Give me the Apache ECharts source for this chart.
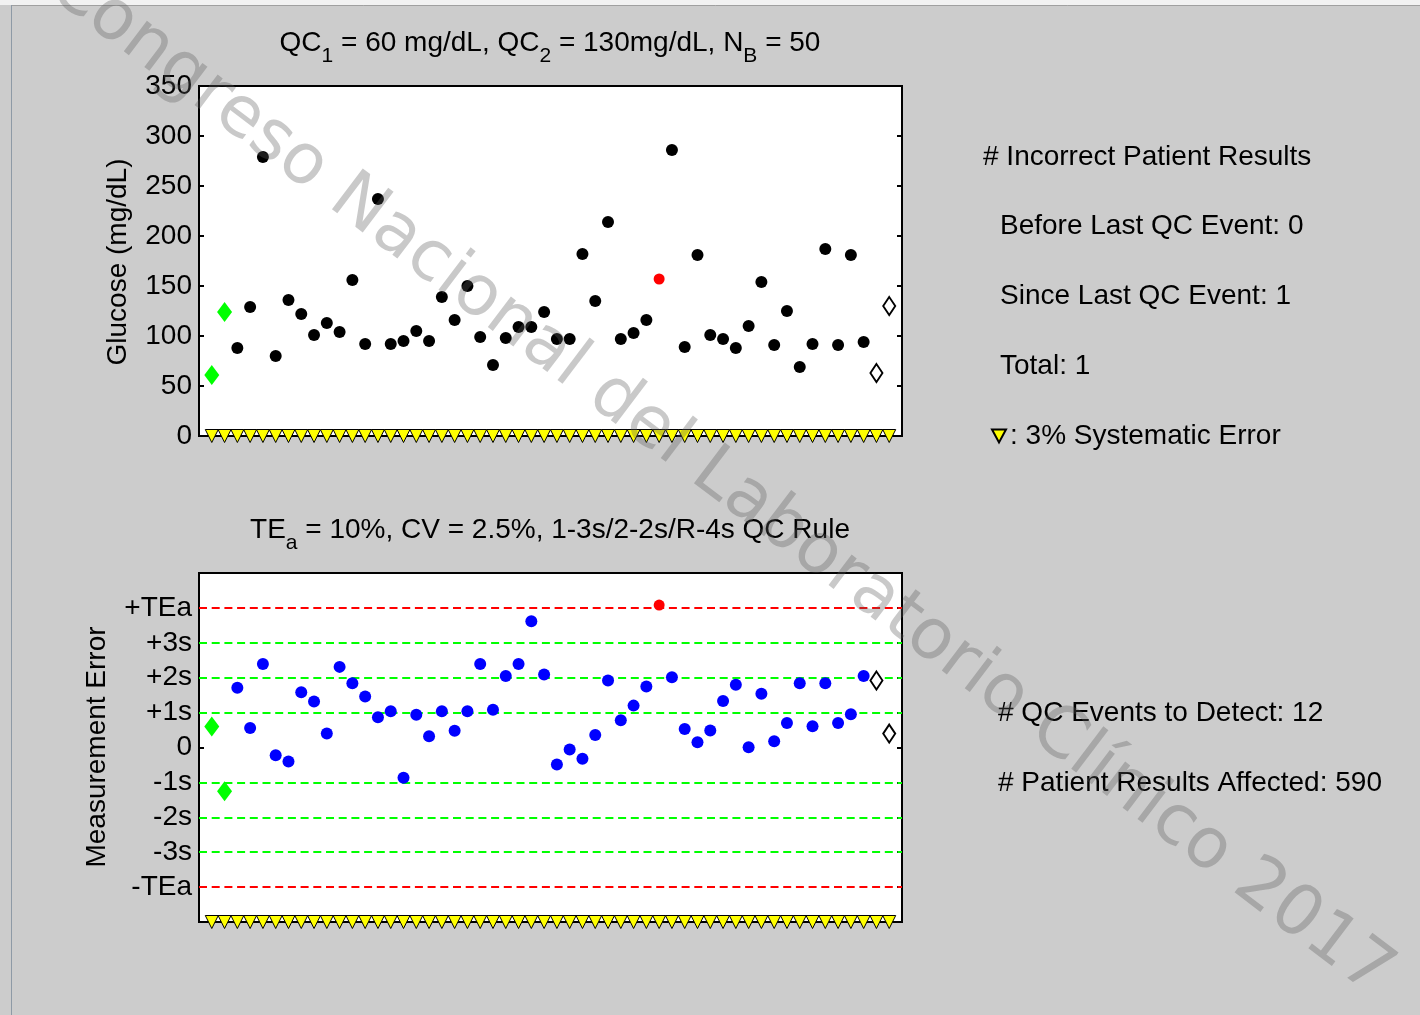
<!DOCTYPE html>
<html><head><meta charset="utf-8">
<script src="https://cdn.jsdelivr.net/npm/echarts@6/dist/echarts.min.js"></script>
<style>html,body{margin:0;padding:0;background:#cccccc}#c{width:1420px;height:1015px}</style>
</head><body><div id="c"></div>
<script>
// ---------------- data ----------------
const qcStartGlucose = [61, 124];          // QC1, QC2 before patient run
const qcEndGlucose = [63, 130];            // QC1, QC2 after patient run (open diamonds)
const patientGlucose = [88,129,279,80,136,122,101,113,104,156,
                        92,237,92,95,105,95,139,116,150,99,
                        71,98,109,109,124,97,97,182,135,214,
                        97,103,116,157,286,89,181,101,97,88,
                        110,154,91,125,69,92,187,91,181,94];
const qcStartError = [0.60, -1.25];        // in SD units
const qcEndError = [1.92, 0.40];
const patientError = [1.71,0.56,2.39,-0.22,-0.40,1.58,1.32,0.40,2.31,1.84,
                      1.46,0.87,1.04,-0.87,0.94,0.32,1.04,0.48,1.04,2.39,
                      1.08,2.05,2.39,3.62,2.09,-0.49,-0.06,-0.32,0.36,1.92,
                      0.78,1.20,1.75,4.08,2.01,0.53,0.15,0.49,1.33,1.80,
                      0.01,1.54,0.18,0.70,1.84,0.61,1.84,0.70,0.95,2.05];
const flaggedPatients = [33];              // incorrect patient result (red)
const errorTickValues = [-4,-3,-2,-1,0,1,2,3,4];
const errorTickLabels = ['-TEa','-3s','-2s','-1s','0','+1s','+2s','+3s','+TEa'];
const teaLimits = [4, -4];
const sdLimits = [3, 2, 1, -1, -2, -3];
const glucoseRange = [0, 350, 50];
const errorRange = [-5, 5, 1];
const topTitle = '{n|QC}{s|1}{n| = 60 mg/dL, QC}{s|2}{n| = 130mg/dL, N}{s|B}{n| = 50}';
const bottomTitle = '{n|TE}{s|a}{n| = 10%, CV = 2.5%, 1-3s/2-2s/R-4s QC Rule}';
const infoTop = ['Before Last QC Event: 0', 'Since Last QC Event: 1', 'Total: 1'];
const infoBottom = ['# QC Events to Detect: 12', '# Patient Results Affected: 590'];
const legendName = ': 3% Systematic Error';
const watermark = 'Congreso Nacional del Laboratorio Clínico 2017';

// ---------------- build ----------------
const FONT = "'Liberation Sans', Arial, sans-serif";
const nQC = qcStartGlucose.length;
const nP = patientGlucose.length;
const nAll = nQC + nP + qcEndGlucose.length;
const runPositions = Array.from({length: nAll}, (_, i) => i);

const topQCStart = qcStartGlucose.map((v, i) => [i, v]);
const topQCEnd = qcEndGlucose.map((v, i) => [nQC + nP + i, v]);
const topPatients = patientGlucose.map((v, i) => [nQC + i, v]);
const botQCStart = qcStartError.map((v, i) => [i, v]);
const botQCEnd = qcEndError.map((v, i) => [nQC + nP + i, v]);
const botPatients = patientError.map((v, i) => [nQC + i, v]);
const isFlag = i => flaggedPatients.includes(i);

const tick = {show: true, inside: true, length: 5, lineStyle: {color: '#000', width: 2}};
const label = {fontSize: 28, fontFamily: FONT, color: '#000', margin: 7};

function yAx(grid, range, pos, withLabel, fmt) {
  return {type: 'value', gridIndex: grid, min: range[0], max: range[1], interval: range[2],
    position: pos, axisLine: {show: false, onZero: false}, axisTick: tick, splitLine: {show: false},
    axisLabel: withLabel ? Object.assign({formatter: fmt}, label) : {show: false}};
}
function xAx(grid) {
  return {type: 'value', gridIndex: grid, min: -1, max: nAll, show: false,
    axisLine: {onZero: false}, splitLine: {show: false}};
}

const diamondGreen = {symbol: 'diamond', symbolSize: [15, 20], itemStyle: {color: '#00ff00', opacity: 1}};
const diamondOpen = {symbol: 'diamond', symbolSize: [12, 18], itemStyle: {color: '#ffffff', borderColor: '#000', borderWidth: 2, opacity: 1}};
const triStyle = {symbol: 'triangle', symbolRotate: 180, symbolSize: [13, 13], clip: false, z: 6,
  itemStyle: {color: '#ffff00', borderColor: '#000', borderWidth: 1, opacity: 1}};

const limitLines = teaLimits.map(v => ({yAxis: v, lineStyle: {color: '#ff0000'}}))
  .concat(sdLimits.map(v => ({yAxis: v, lineStyle: {color: '#00ff00'}})));

const chart = echarts.init(document.getElementById('c'), null, {renderer: 'canvas'});
chart.setOption({
  backgroundColor: '#cccccc',
  animation: false,
  grid: [
    {left: 199, top: 86, width: 703, height: 350, show: true, backgroundColor: '#ffffff', borderColor: '#000', borderWidth: 2},
    {left: 199, top: 573, width: 703, height: 349, show: true, backgroundColor: '#ffffff', borderColor: '#000', borderWidth: 2}
  ],
  xAxis: [xAx(0), xAx(1)],
  yAxis: [
    yAx(0, glucoseRange, 'left', true, v => String(v)),
    yAx(0, glucoseRange, 'right', false),
    yAx(1, errorRange, 'left', true, v => { const k = errorTickValues.indexOf(v); return k < 0 ? '' : errorTickLabels[k]; }),
    yAx(1, errorRange, 'right', false)
  ],
  legend: {
    data: [{name: legendName, icon: 'path://M0,0L14,0L7,13Z'}], left: 991, top: 422, itemWidth: 14, itemHeight: 13, padding: 0,
    selectedMode: false,
    textStyle: {fontSize: 28, fontFamily: FONT, color: '#000', padding: [0, 0, 0, -1]}
  },
  series: [
    Object.assign({type: 'scatter', xAxisIndex: 0, yAxisIndex: 0, z: 3, data: topQCStart}, diamondGreen),
    {type: 'scatter', xAxisIndex: 0, yAxisIndex: 0, z: 3, symbolSize: 12, itemStyle: {color: '#000', opacity: 1},
      data: topPatients.filter((p, i) => !isFlag(i))},
    {type: 'scatter', xAxisIndex: 0, yAxisIndex: 0, z: 3, symbolSize: 11, itemStyle: {color: '#ff0000', opacity: 1},
      data: topPatients.filter((p, i) => isFlag(i))},
    Object.assign({type: 'scatter', xAxisIndex: 0, yAxisIndex: 0, z: 3, data: topQCEnd}, diamondOpen),
    Object.assign({type: 'scatter', name: legendName, xAxisIndex: 0, yAxisIndex: 0,
      data: runPositions.map(x => [x, glucoseRange[0]])}, triStyle),

    {type: 'scatter', xAxisIndex: 1, yAxisIndex: 2, z: 1, data: [], silent: true,
      markLine: {silent: true, symbol: ['none', 'none'], z: 1, label: {show: false},
        lineStyle: {type: [8, 4.7], width: 2}, data: limitLines}},
    Object.assign({type: 'scatter', xAxisIndex: 1, yAxisIndex: 2, z: 3, data: botQCStart}, diamondGreen),
    {type: 'scatter', xAxisIndex: 1, yAxisIndex: 2, z: 3, symbolSize: 12, itemStyle: {color: '#0000ff', opacity: 1},
      data: botPatients.filter((p, i) => !isFlag(i))},
    {type: 'scatter', xAxisIndex: 1, yAxisIndex: 2, z: 3, symbolSize: 11, itemStyle: {color: '#ff0000', opacity: 1},
      data: botPatients.filter((p, i) => isFlag(i))},
    Object.assign({type: 'scatter', xAxisIndex: 1, yAxisIndex: 2, z: 3, data: botQCEnd}, diamondOpen),
    Object.assign({type: 'scatter', name: legendName, xAxisIndex: 1, yAxisIndex: 2,
      data: runPositions.map(x => [x, errorRange[0]])}, triStyle)
  ],
  graphic: [
    {type: 'rect', silent: true, z: 0, shape: {x: 0, y: 0, width: 1420, height: 5}, style: {fill: '#f2f2f2'}},
    {type: 'line', silent: true, z: 0, shape: {x1: 11, y1: 5.5, x2: 1420, y2: 5.5}, style: {stroke: '#a0a0a0', lineWidth: 1}},
    {type: 'line', silent: true, z: 0, shape: {x1: 11.5, y1: 5, x2: 11.5, y2: 1015}, style: {stroke: '#8e9aa6', lineWidth: 1}},
    {type: 'text', x: 550, y: 43, z: 10, silent: true, style: {text: topTitle, align: 'center', verticalAlign: 'middle',
      rich: {n: {fontSize: 28, fontFamily: FONT, fill: '#000', lineHeight: 48, verticalAlign: 'middle'},
             s: {fontSize: 21, fontFamily: FONT, fill: '#000', lineHeight: 18, verticalAlign: 'bottom'}}}},
    {type: 'text', x: 550, y: 530, z: 10, silent: true, style: {text: bottomTitle, align: 'center', verticalAlign: 'middle',
      rich: {n: {fontSize: 28, fontFamily: FONT, fill: '#000', lineHeight: 48, verticalAlign: 'middle'},
             s: {fontSize: 21, fontFamily: FONT, fill: '#000', lineHeight: 18, verticalAlign: 'bottom'}}}},
    {type: 'text', x: 118, y: 262, rotation: Math.PI / 2, z: 10, silent: true,
      style: {text: 'Glucose (mg/dL)', align: 'center', verticalAlign: 'middle', fontSize: 28, fontFamily: FONT, fill: '#000'}},
    {type: 'text', x: 97, y: 747, rotation: Math.PI / 2, z: 10, silent: true,
      style: {text: 'Measurement Error', align: 'center', verticalAlign: 'middle', fontSize: 28, fontFamily: FONT, fill: '#000'}},
    {type: 'text', x: 983, y: 157, z: 10, silent: true,
      style: {text: '# Incorrect Patient Results', verticalAlign: 'middle', fontSize: 28, fontFamily: FONT, fill: '#000'}},
    {type: 'text', x: 1000, y: 226, z: 10, silent: true,
      style: {text: infoTop[0], verticalAlign: 'middle', fontSize: 28, fontFamily: FONT, fill: '#000'}},
    {type: 'text', x: 1000, y: 296, z: 10, silent: true,
      style: {text: infoTop[1], verticalAlign: 'middle', fontSize: 28, fontFamily: FONT, fill: '#000'}},
    {type: 'text', x: 1000, y: 366, z: 10, silent: true,
      style: {text: infoTop[2], verticalAlign: 'middle', fontSize: 28, fontFamily: FONT, fill: '#000'}},
    {type: 'text', x: 998, y: 713, z: 10, silent: true,
      style: {text: infoBottom[0], verticalAlign: 'middle', fontSize: 28, fontFamily: FONT, fill: '#000'}},
    {type: 'text', x: 998, y: 783, z: 10, silent: true,
      style: {text: infoBottom[1], verticalAlign: 'middle', fontSize: 28, fontFamily: FONT, fill: '#000'}},
    {type: 'text', x: 720, y: 480, rotation: -0.648, z: 100, silent: true,
      style: {text: watermark, align: 'center', verticalAlign: 'middle', fontSize: 70, fontFamily: "'DejaVu Sans', sans-serif",
        fill: 'rgba(90,90,90,0.33)'}}
  ]
});
</script></body></html>
